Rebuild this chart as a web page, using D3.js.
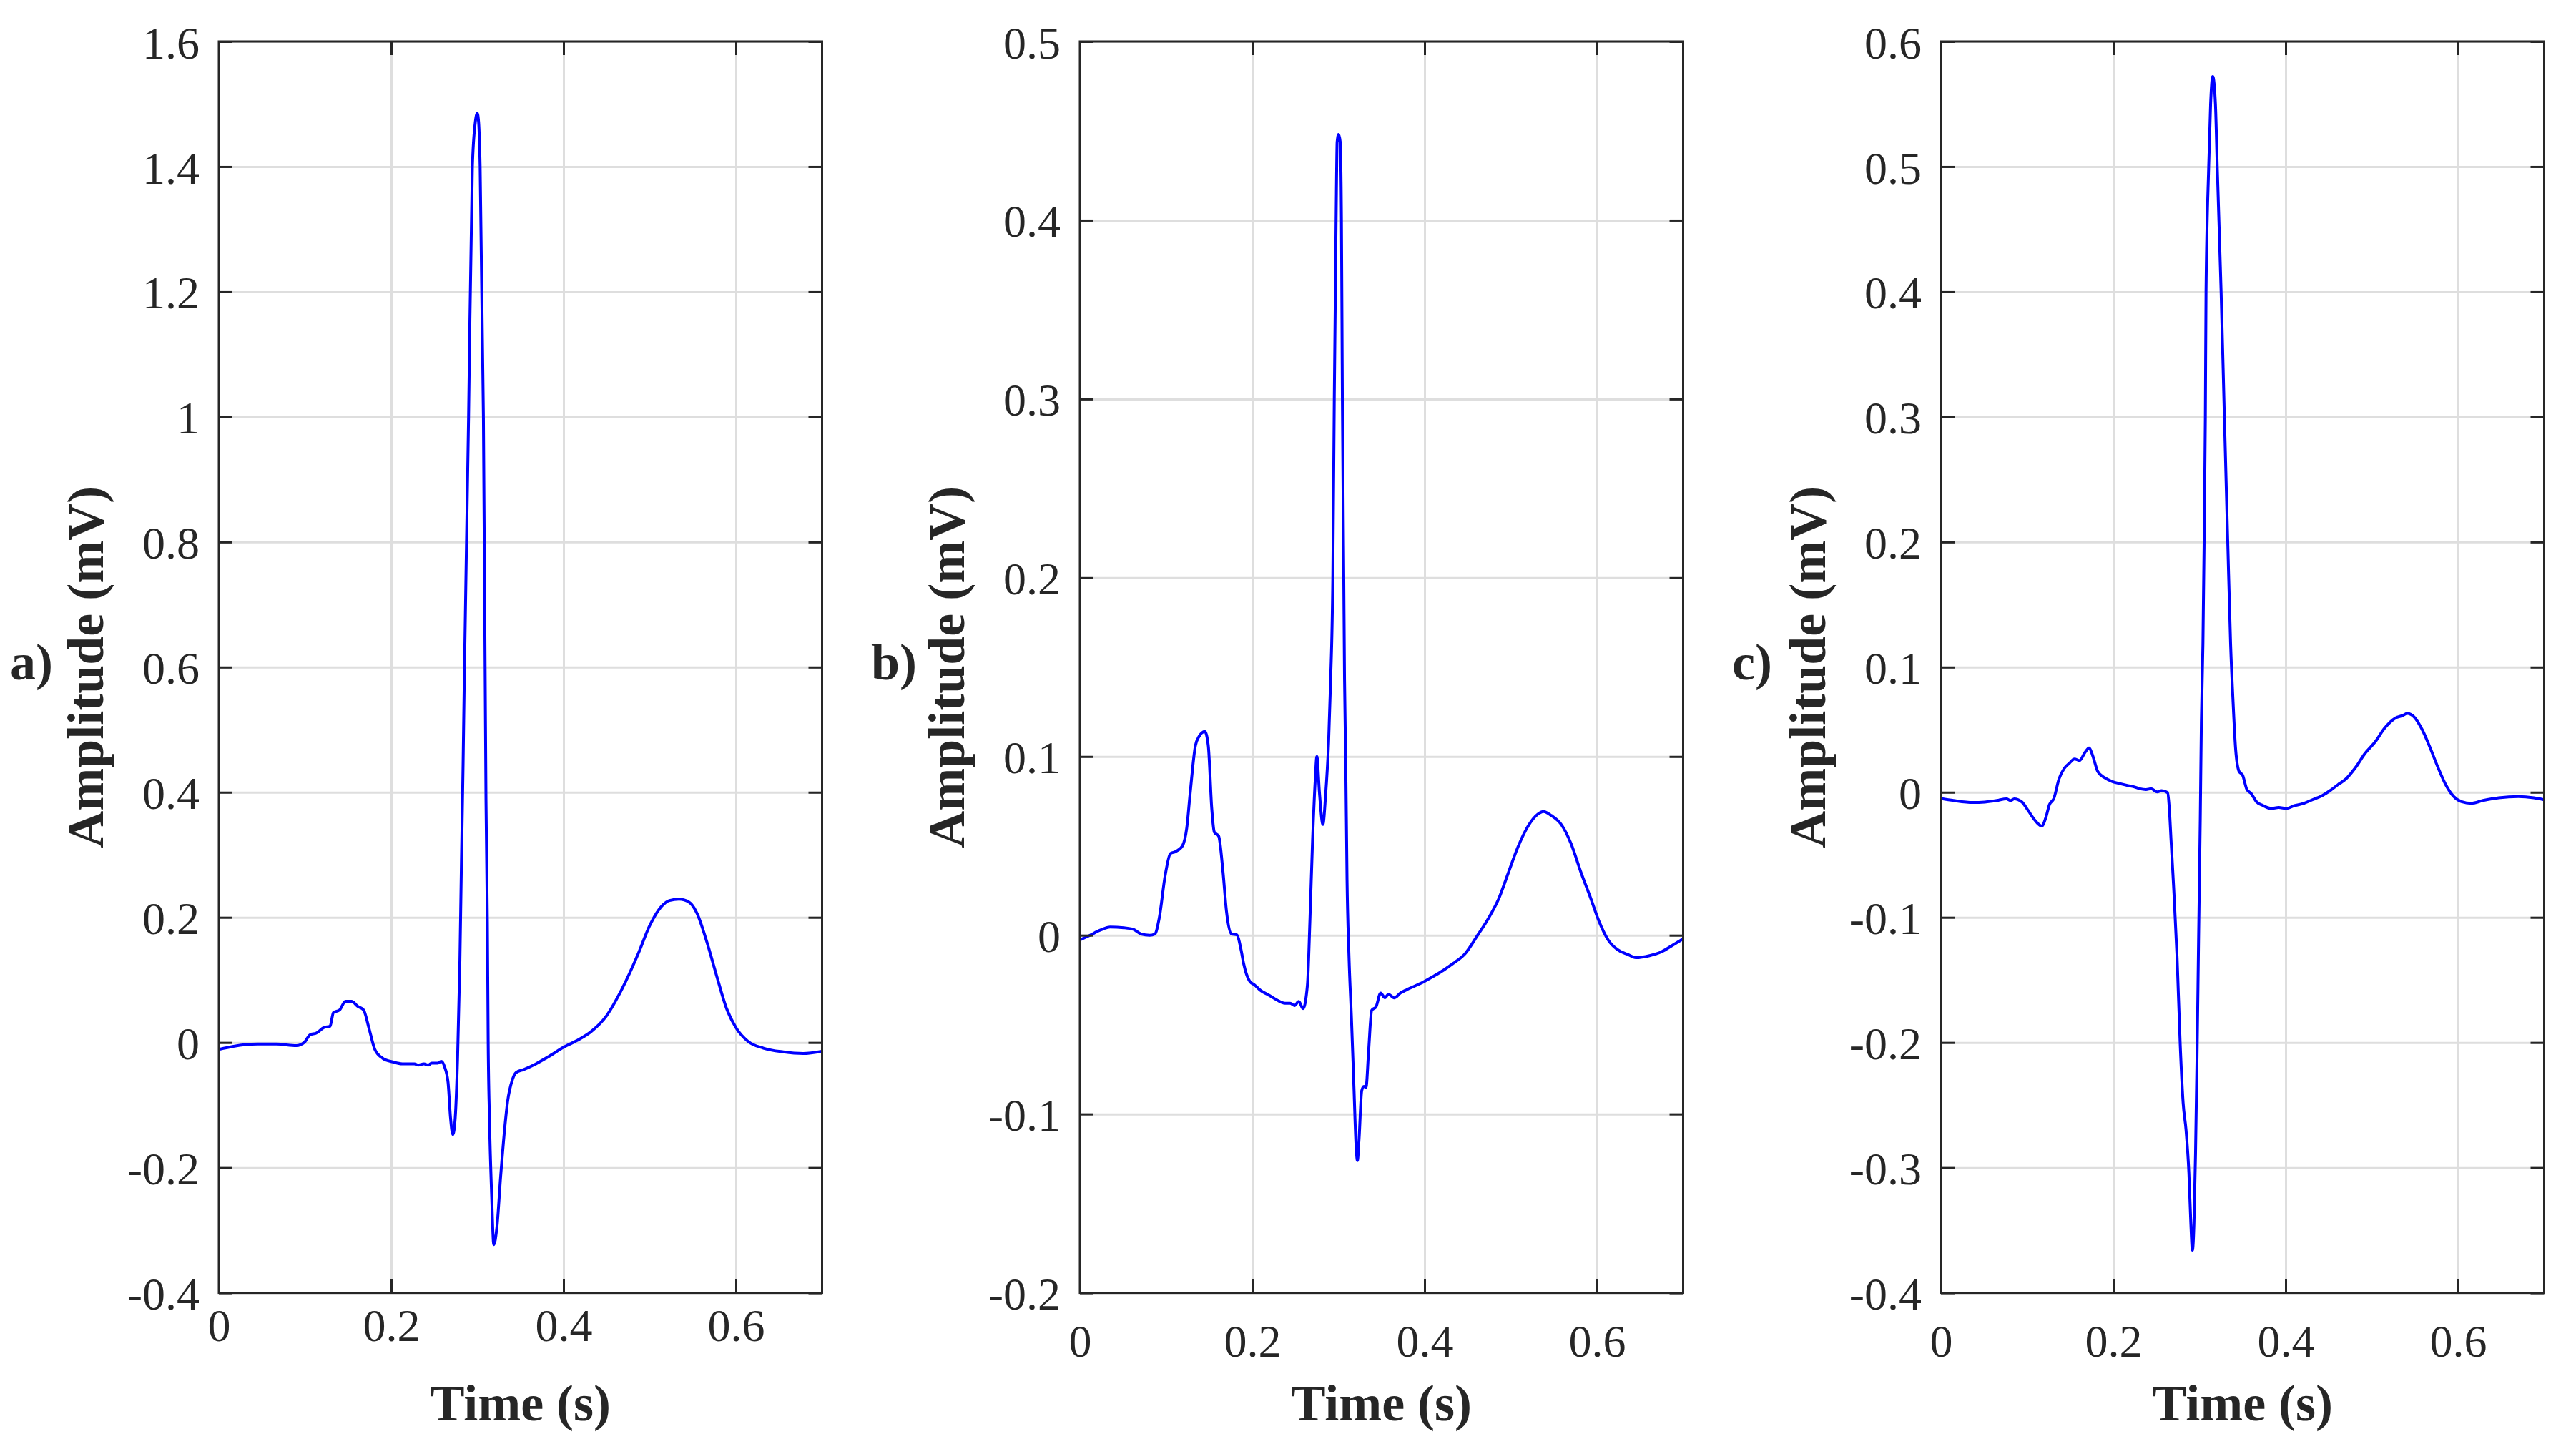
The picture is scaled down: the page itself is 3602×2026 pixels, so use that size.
<!DOCTYPE html>
<html>
<head>
<meta charset="utf-8">
<script src="https://cdn.jsdelivr.net/npm/d3@7"></script>
<style>
    body { margin: 0; background: #fff; }
    text { font-family: "Liberation Serif", "Times New Roman", serif; fill: #262626; }
</style>
</head>
<body>
<svg id="chart" width="3602" height="2026"></svg>
<script>
// ---- data (time in s, amplitude in mV) ----
const timeA = [0, 0.017, 0.045, 0.067, 0.090, 0.099, 0.106, 0.113, 0.122, 0.129, 0.133, 0.140, 0.147, 0.154,
    0.161, 0.168, 0.174, 0.181, 0.190, 0.202, 0.213, 0.227, 0.231, 0.238, 0.243, 0.247, 0.254, 0.258, 0.262,
    0.266, 0.2688, 0.2715, 0.2743, 0.277, 0.2797, 0.2815, 0.2834, 0.2847, 0.2898, 0.2942, 0.2975, 0.2999,
    0.3015, 0.3032, 0.3070, 0.3091, 0.310, 0.3116, 0.3125, 0.314, 0.3166, 0.319, 0.3226, 0.327, 0.332, 0.335,
    0.341, 0.345, 0.354, 0.368, 0.382, 0.400, 0.418, 0.432, 0.450, 0.468, 0.487, 0.500, 0.514, 0.523, 0.534,
    0.546, 0.555, 0.566, 0.578, 0.589, 0.600, 0.614, 0.632, 0.655, 0.678, 0.700];
const ampA = [-0.011, -0.006, -0.0025, -0.0025, -0.005, 0, 0.0125, 0.015, 0.024, 0.026, 0.048, 0.052, 0.066, 0.066,
    0.058, 0.052, 0.024, -0.011, -0.025, -0.031, -0.034, -0.034, -0.036, -0.034, -0.036, -0.033, -0.033, -0.030, -0.039,
    -0.064, -0.120, -0.147, -0.120, -0.026, 0.130, 0.287, 0.444, 0.569, 1.0, 1.4, 1.47, 1.485,
    1.47, 1.4, 1.0, 0.569, 0.387, 0.193, 0.005, -0.12, -0.245, -0.323, -0.296, -0.214, -0.133, -0.095,
    -0.058, -0.048, -0.043, -0.034, -0.023, -0.0075, 0.005, 0.0175, 0.043, 0.086, 0.143, 0.187, 0.218, 0.227, 0.229,
    0.224, 0.206, 0.162, 0.105, 0.055, 0.024, 0.002, -0.009, -0.015, -0.0175, -0.014];

const timeB = [0, 0.010, 0.024, 0.035, 0.051, 0.062, 0.071, 0.081, 0.087, 0.092, 0.099, 0.105, 0.111, 0.119, 0.124,
    0.128, 0.134, 0.138, 0.145, 0.149, 0.153, 0.156, 0.161, 0.166, 0.170, 0.176, 0.182, 0.187, 0.190, 0.197,
    0.203, 0.210, 0.219, 0.228, 0.238, 0.244, 0.249, 0.254, 0.259, 0.264, 0.267, 0.270, 0.273, 0.275, 0.278,
    0.282, 0.285, 0.2886, 0.2910, 0.2935, 0.2952, 0.2973, 0.2985, 0.3002, 0.3021, 0.3035, 0.3046, 0.3062, 0.3071,
    0.3085, 0.310, 0.3123, 0.315, 0.318, 0.3205, 0.322, 0.324, 0.327, 0.3295, 0.332, 0.335, 0.3386, 0.3436, 0.349,
    0.354, 0.358, 0.365, 0.372, 0.379, 0.388, 0.399, 0.410, 0.422, 0.433, 0.447, 0.461, 0.474, 0.486, 0.497,
    0.508, 0.520, 0.531, 0.538, 0.547, 0.559, 0.570, 0.581, 0.593, 0.602, 0.613, 0.624, 0.636, 0.645, 0.661,
    0.675, 0.688, 0.700];
const ampB = [-0.0026, -0.0004, 0.0029, 0.0046, 0.0042, 0.0033, 0.0007, 0, 0.0007, 0.0094, 0.0336, 0.0457, 0.0468, 0.050, 0.060,
    0.0797, 0.106, 0.111, 0.114, 0.106, 0.071, 0.0577, 0.0555, 0.0358, 0.0138, 0.0007, 0.0002, -0.0081, -0.0158, -0.0257,
    -0.0279, -0.031, -0.0334, -0.036, -0.038, -0.038, -0.0393, -0.037, -0.041, -0.0279, 0.0094, 0.053, 0.086, 0.100, 0.0797,
    0.062, 0.0775, 0.108, 0.143, 0.2, 0.3, 0.4, 0.4438, 0.448, 0.4438, 0.4, 0.3, 0.2, 0.143,
    0.097, 0.031, -0.0125, -0.045, -0.085, -0.118, -0.126, -0.1135, -0.087, -0.0845, -0.085, -0.065, -0.042, -0.040, -0.0323,
    -0.035, -0.033, -0.035, -0.0323, -0.0305, -0.0285, -0.026, -0.023, -0.0195, -0.0158, -0.0103, -0.0004, 0.0094, 0.0204, 0.0347,
    0.049, 0.061, 0.0676, 0.0692, 0.067, 0.0617, 0.0512, 0.0358, 0.0204, 0.0083, -0.0026, -0.0081, -0.0108, -0.0125, -0.0114,
    -0.0092, -0.0055, -0.002];

const timeC = [0, 0.0146, 0.037, 0.051, 0.065, 0.076, 0.081, 0.085, 0.094, 0.101, 0.109, 0.117, 0.1215, 0.126, 0.131,
    0.137, 0.143, 0.149, 0.155, 0.161, 0.167, 0.172, 0.176, 0.182, 0.190, 0.199, 0.208, 0.217, 0.224, 0.231,
    0.238, 0.244, 0.251, 0.256, 0.263, 0.265, 0.267, 0.270, 0.274, 0.2776, 0.281, 0.2844, 0.2877, 0.290, 0.2918,
    0.2936, 0.2954, 0.2972, 0.299, 0.3009, 0.3022, 0.3040, 0.3054, 0.3068, 0.3076, 0.3107, 0.3129, 0.3154, 0.3185,
    0.3206, 0.3251, 0.3289, 0.3328, 0.3361, 0.339, 0.342, 0.346, 0.350, 0.355, 0.360, 0.366, 0.374, 0.383, 0.392,
    0.401, 0.410, 0.420, 0.431, 0.442, 0.4515, 0.4606, 0.470, 0.481, 0.492, 0.504, 0.515, 0.527, 0.536, 0.541,
    0.5494, 0.5585, 0.5676, 0.5767, 0.5858, 0.595, 0.604, 0.6154, 0.629, 0.6473, 0.670, 0.688, 0.700];
const ampC = [-0.005, -0.0066, -0.0082, -0.0078, -0.0066, -0.0053, -0.0066, -0.0053, -0.0078, -0.0144, -0.0223, -0.027, -0.0207, -0.0097, -0.005,
    0.0107, 0.019, 0.0232, 0.0266, 0.0254, 0.0317, 0.0354, 0.0295, 0.0166, 0.0116, 0.0085, 0.0069, 0.0053, 0.0044, 0.0028,
    0.0022, 0.0028, 0.0003, 0.0013, -0.0003, -0.0129, -0.038, -0.0755, -0.132, -0.201, -0.248, -0.27, -0.304, -0.345, -0.366,
    -0.345, -0.289, -0.21, -0.116, -0.022, 0.056, 0.1187, 0.2, 0.3, 0.4, 0.5, 0.55, 0.572, 0.55,
    0.5, 0.4, 0.3, 0.2, 0.1187, 0.072, 0.034, 0.0166, 0.0138, 0.0022, -0.001, -0.0075, -0.0107, -0.0129, -0.0122,
    -0.0129, -0.0107, -0.0091, -0.006, -0.0028, 0.0013, 0.006, 0.0107, 0.0197, 0.031, 0.0404, 0.0514, 0.0592, 0.0614, 0.063,
    0.060, 0.050, 0.0357, 0.020, 0.006, -0.0034, -0.0075, -0.0088, -0.0066, -0.0044, -0.0034, -0.0044, -0.006];

const xTicks = [0, 0.2, 0.4, 0.6];
const yTicksA = [-0.4, -0.2, 0, 0.2, 0.4, 0.6, 0.8, 1, 1.2, 1.4, 1.6];
const yTicksB = [-0.2, -0.1, 0, 0.1, 0.2, 0.3, 0.4, 0.5];
const yTicksC = [-0.4, -0.3, -0.2, -0.1, 0, 0.1, 0.2, 0.3, 0.4, 0.5, 0.6];
const panelLabels = ['a)', 'b)', 'c)'];

// ---- layout ----
const svg = d3.select('#chart');
let plotW = 843.5, plotH = 1749.6, plotTop = 58;
let panelLeft = [306, 1510, 2714];
let axisColor = '#262626', gridColor = '#dedede';

let panels = [
    {time: timeA, amp: ampA, yTicks: yTicksA},
    {time: timeB, amp: ampB, yTicks: yTicksB},
    {time: timeC, amp: ampC, yTicks: yTicksC}
];

function fmt(d) {
    return String(+d.toFixed(1));
}

panels.forEach(function (p, i) {
    let left = panelLeft[i];
    let xScale = d3.scaleLinear().domain([0, 0.7]).range([0, plotW]);
    let yScale = d3.scaleLinear()
        .domain([p.yTicks[0], p.yTicks[p.yTicks.length - 1]])
        .range([plotH, 0]);

    let g = svg.append('g').attr('transform', 'translate(' + left + ',' + plotTop + ')');

    // grid lines
    g.append('g')
        .attr('transform', 'translate(0,' + plotH + ')')
        .call(d3.axisBottom(xScale).tickValues(xTicks).tickSize(-plotH).tickFormat(''))
        .call(s => s.select('.domain').remove());
    g.append('g')
        .call(d3.axisLeft(yScale).tickValues(p.yTicks).tickSize(-plotW).tickFormat(''))
        .call(s => s.select('.domain').remove());
    g.selectAll('.tick line').attr('stroke', gridColor).attr('stroke-width', 3);

    // trace
    g.append('clipPath').attr('id', 'clip' + i)
        .append('rect').attr('width', plotW).attr('height', plotH);
    let line = d3.line()
        .x((d, k) => xScale(p.time[k]))
        .y(d => yScale(d))
        .curve(d3.curveMonotoneX);
    g.append('path')
        .datum(p.amp)
        .attr('clip-path', 'url(#clip' + i + ')')
        .attr('d', line)
        .attr('fill', 'none')
        .attr('stroke', '#0000ff')
        .attr('stroke-width', 4)
        .attr('stroke-linejoin', 'round');

    // axes with inward ticks on all four sides
    let axes = g.append('g').attr('class', 'axes');
    axes.append('g')
        .call(d3.axisLeft(yScale).tickValues(p.yTicks).tickSizeInner(-19).tickSizeOuter(0)
            .tickPadding(27).tickFormat(fmt));
    axes.append('g')
        .attr('transform', 'translate(' + plotW + ',0)')
        .call(d3.axisRight(yScale).tickValues(p.yTicks).tickSizeInner(-19).tickSizeOuter(0).tickFormat(''));
    axes.append('g')
        .attr('transform', 'translate(0,' + plotH + ')')
        .call(d3.axisBottom(xScale).tickValues(xTicks).tickSizeInner(-19).tickSizeOuter(0)
            .tickPadding(44).tickFormat(fmt));
    axes.append('g')
        .call(d3.axisTop(xScale).tickValues(xTicks).tickSizeInner(-19).tickSizeOuter(0).tickFormat(''));
    axes.selectAll('.domain').remove();
    axes.selectAll('.tick line').attr('stroke', axisColor).attr('stroke-width', 3);
    axes.selectAll('.tick text')
        .style('font-family', '"Liberation Serif", "Times New Roman", serif')
        .style('font-size', '64px')
        .attr('fill', axisColor);
    axes.selectAll('g:first-child .tick text').attr('dy', '0.36em');

    g.append('rect')
        .attr('width', plotW).attr('height', plotH)
        .attr('fill', 'none').attr('stroke', axisColor).attr('stroke-width', 3);

    // labels
    svg.append('text')
        .attr('x', left + plotW / 2).attr('y', 1986)
        .attr('text-anchor', 'middle')
        .style('font-size', '72px').style('font-weight', 'bold')
        .text('Time (s)');
    svg.append('text')
        .attr('transform', 'translate(' + (left - 162) + ',' + (plotTop + plotH / 2) + ') rotate(-90)')
        .attr('text-anchor', 'middle')
        .style('font-size', '72px').style('font-weight', 'bold')
        .text('Amplitude (mV)');
    svg.append('text')
        .attr('x', left - 292).attr('y', 950)
        .style('font-size', '72px').style('font-weight', 'bold')
        .text(panelLabels[i]);
});
</script>
</body>
</html>
